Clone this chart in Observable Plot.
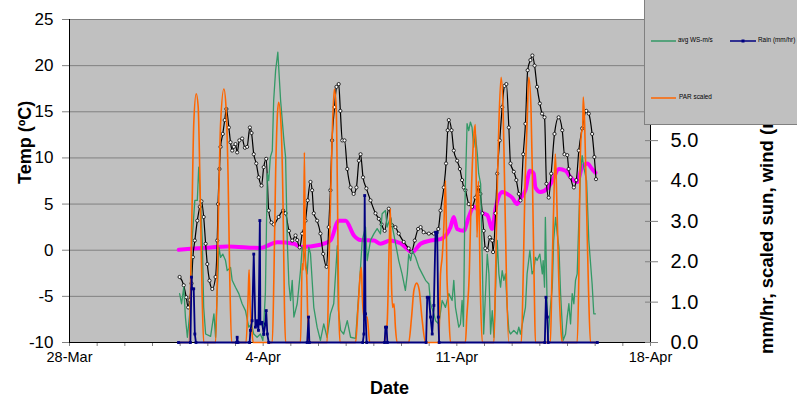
<!DOCTYPE html>
<html><head><meta charset="utf-8">
<script src="https://cdn.jsdelivr.net/npm/d3@7"></script>
<script src="https://cdn.jsdelivr.net/npm/@observablehq/plot@0.6"></script>
<style>
body{margin:0;background:#fff;font-family:"Liberation Sans",Arial,sans-serif}
#wrap{position:relative;width:797px;height:404px;overflow:hidden;background:#fff}
#wrap svg{position:absolute;left:0;top:0}
.rot{position:absolute;transform-origin:0 0;transform:rotate(-90deg);white-space:nowrap;line-height:1;font-weight:bold;color:#000}
#legend{position:absolute;left:644px;top:-2px;width:160px;height:127px;background:#c0c0c0;border:1px solid #808080;box-sizing:border-box;z-index:5}
#legend svg{position:absolute;left:0;top:0}
#legend .tx{position:absolute;font-size:6.4px;line-height:1;color:#000;white-space:nowrap}
</style></head>
<body><div id="wrap"></div>
<script>
// x values: days since 28-Mar (fractional); y values
const dateLabels = ["28-Mar", "4-Apr", "11-Apr", "18-Apr"];
const leftTicks = [-10, -5, 0, 5, 10, 15, 20, 25];
const rightTicks = [0, 1, 2, 3, 4, 5, 6, 7, 8];
const rightLabelled = [0, 1, 2, 3, 4, 5]; // 6.0–8.0 sit under the legend box

// air temperature (black, left axis, °C)
const airTemp = [[3.98,-2.9],[4.13,-3.8],[4.22,-5.1],[4.29,-6.2],[4.34,-5.4],[4.41,-3.6],[4.46,-0.75],[4.53,1.05],[4.62,3.2],[4.71,4.7],[4.77,5.3],[4.85,3.6],[4.92,0.7],[4.98,-1.5],[5.06,-3.3],[5.16,-4.2],[5.28,-2.9],[5.34,1.05],[5.37,5.0],[5.42,8.8],[5.46,11.2],[5.54,12.6],[5.61,14.1],[5.67,15.3],[5.76,13.3],[5.82,11.7],[5.88,10.8],[5.94,11.2],[6.0,11.5],[6.06,10.6],[6.14,11.9],[6.24,12.1],[6.34,11.1],[6.42,11.2],[6.52,13.3],[6.58,12.7],[6.66,10.4],[6.75,9.4],[6.84,7.9],[6.94,7.0],[7.02,9.0],[7.11,9.9],[7.2,4.3],[7.3,3.0],[7.38,2.8],[7.56,3.6],[7.72,4.3],[7.81,4.0],[7.93,2.1],[8.05,1.05],[8.17,1.6],[8.23,1.1],[8.32,0.3],[8.41,1.8],[8.53,3.2],[8.61,5.4],[8.71,7.4],[8.77,6.5],[8.83,4.0],[8.95,3.2],[9.07,1.8],[9.17,-0.4],[9.29,-1.8],[9.37,2.5],[9.43,6.5],[9.49,11.9],[9.58,15.5],[9.65,17.7],[9.73,18.0],[9.79,15.1],[9.86,11.9],[9.94,11.9],[10.04,8.8],[10.16,6.8],[10.27,6.1],[10.37,6.8],[10.46,9.7],[10.52,10.4],[10.61,7.9],[10.73,6.7],[10.88,5.4],[11.06,4.0],[11.18,3.4],[11.28,2.8],[11.39,2.1],[11.54,4.5],[11.66,2.7],[11.78,2.5],[11.9,1.8],[12.08,0.9],[12.26,0.2],[12.36,-0.2],[12.48,1.05],[12.6,2.3],[12.69,2.5],[12.8,1.95],[12.99,1.8],[13.17,1.8],[13.33,2.3],[13.41,4.3],[13.53,6.8],[13.61,9.4],[13.67,13.0],[13.71,14.1],[13.81,13.0],[13.89,10.8],[14.01,9.7],[14.11,8.8],[14.19,7.6],[14.25,6.8],[14.31,6.5],[14.43,5.0],[14.55,4.7],[14.67,5.7],[14.79,6.8],[14.85,6.1],[14.92,4.0],[14.97,2.1],[15.03,0.2],[15.1,0.0],[15.19,1.4],[15.28,1.05],[15.31,-0.2],[15.4,4.0],[15.46,8.3],[15.55,11.9],[15.64,15.5],[15.72,17.8],[15.79,18.0],[15.88,13.3],[15.94,9.4],[16.06,8.5],[16.15,7.6],[16.24,6.1],[16.3,5.4],[16.4,10.4],[16.48,13.7],[16.56,19.5],[16.66,20.6],[16.73,21.1],[16.81,20.0],[16.9,17.7],[17.0,15.9],[17.08,14.8],[17.17,14.4],[17.24,7.2],[17.32,5.7],[17.41,8.3],[17.53,12.6],[17.68,14.4],[17.81,13.0],[17.89,10.4],[17.99,10.3],[18.04,8.8],[18.11,7.9],[18.23,6.8],[18.32,7.6],[18.41,10.8],[18.53,13.2],[18.68,15.1],[18.77,14.8],[18.89,12.6],[18.97,10.1],[19.03,7.7]];

// second temperature (magenta, left axis, °C)
const waterTemp = [[3.95,0.05],[4.37,0.15],[5.10,0.3],[5.70,0.4],[6.90,0.25],[7.51,0.85],[8.11,0.7],[8.35,0.35],[9.07,0.6],[9.43,1.05],[9.73,3.2],[9.98,3.2],[10.28,1.6],[10.52,1.1],[11.0,1.05],[11.24,0.7],[11.60,1.05],[11.96,0.75],[12.39,-0.2],[12.69,0.7],[13.05,1.05],[13.41,1.2],[13.77,2.5],[13.89,3.6],[14.01,2.3],[14.25,2.1],[14.43,3.6],[14.61,4.7],[14.86,4.1],[15.10,3.8],[15.28,2.3],[15.40,4.5],[15.64,6.3],[15.82,6.1],[16.0,5.7],[16.18,5.0],[16.30,5.6],[16.48,6.5],[16.64,8.6],[16.78,8.3],[16.84,6.8],[17.02,6.3],[17.27,6.7],[17.45,7.5],[17.69,8.8],[17.93,8.6],[18.11,7.9],[18.35,7.4],[18.53,9.0],[18.71,9.4],[18.89,8.8],[19.01,8.4]];

// avg wind speed m/s (green, right axis)
const windSpeed = [[3.98,1.21],[4.05,0.96],[4.13,1.37],[4.19,0.63],[4.26,0.13],[4.37,0.87],[4.43,2.53],[4.53,3.52],[4.62,3.52],[4.67,4.34],[4.73,3.6],[4.80,2.53],[4.85,0.87],[4.92,0.21],[5.10,0.15],[5.22,0.71],[5.28,0.13],[5.40,2.36],[5.46,2.11],[5.54,2.19],[5.64,2.03],[5.70,1.78],[5.82,1.86],[5.88,1.54],[6.00,1.37],[6.12,1.21],[6.24,0.96],[6.36,0.79],[6.48,0.38],[6.58,0.46],[6.66,0.21],[6.78,0.13],[6.90,0.21],[6.99,0.05],[7.08,1.21],[7.15,4.18],[7.20,4.01],[7.26,4.59],[7.33,4.75],[7.38,6.0],[7.45,6.74],[7.53,7.19],[7.63,6.0],[7.75,5.0],[7.81,4.59],[7.87,2.53],[7.93,1.45],[7.99,1.04],[8.05,1.54],[8.11,0.63],[8.23,0.96],[8.35,1.78],[8.41,2.36],[8.49,2.2],[8.59,1.7],[8.65,2.36],[8.71,2.2],[8.77,1.54],[8.83,0.87],[8.95,0.38],[9.07,0.05],[9.19,0.46],[9.31,0.13],[9.43,0.71],[9.55,0.96],[9.68,2.4],[9.72,0.8],[9.80,0.3],[9.91,0.21],[10.04,0.54],[10.16,0.13],[10.34,0.1],[10.49,1.54],[10.58,2.53],[10.70,2.86],[10.76,2.03],[10.88,2.53],[11.00,2.69],[11.12,2.82],[11.24,2.69],[11.30,3.19],[11.42,3.27],[11.48,2.86],[11.60,3.1],[11.72,2.69],[11.81,2.36],[11.90,2.03],[12.02,1.7],[12.14,1.29],[12.21,1.7],[12.26,2.19],[12.33,2.03],[12.39,2.28],[12.51,2.11],[12.63,1.86],[12.75,1.7],[12.87,1.54],[12.99,1.45],[13.05,0.96],[13.17,0.71],[13.23,0.54],[13.35,0.46],[13.47,1.04],[13.59,0.87],[13.71,1.21],[13.83,1.04],[13.89,1.54],[13.95,0.87],[14.07,0.38],[14.13,0.46],[14.19,1.04],[14.24,0.4],[14.29,3.35],[14.37,5.42],[14.43,5.25],[14.49,5.46],[14.55,5.33],[14.61,4.84],[14.67,5.17],[14.74,4.67],[14.79,4.18],[14.86,3.93],[14.92,2.0],[14.97,0.21],[15.10,2.19],[15.16,1.7],[15.22,0.21],[15.28,0.79],[15.34,0.13],[15.46,2.53],[15.52,1.7],[15.58,1.37],[15.64,1.78],[15.70,1.54],[15.76,1.7],[15.82,0.87],[15.88,0.3],[15.94,0.21],[16.06,0.3],[16.18,0.21],[16.24,0.38],[16.30,0.21],[16.48,0.87],[16.54,1.7],[16.64,2.28],[16.72,1.7],[16.78,1.78],[16.84,2.11],[16.90,2.03],[17.00,2.19],[17.09,1.7],[17.12,2.03],[17.17,1.37],[17.20,3.1],[17.29,0.05],[17.38,0.87],[17.45,1.37],[17.50,2.53],[17.57,3.1],[17.63,2.69],[17.69,2.36],[17.75,1.21],[17.84,0.05],[17.93,0.21],[17.99,0.63],[18.05,0.96],[18.11,0.46],[18.17,1.21],[18.23,0.96],[18.29,1.54],[18.35,1.7],[18.41,3.02],[18.47,4.18],[18.53,4.63],[18.59,4.34],[18.69,4.01],[18.77,2.53],[18.89,1.45],[18.95,0.71],[19.01,0.71]];

// PAR scaled (orange, right axis)
const parScaled = [[3.94,0],[4.31,0],[4.43,3.35],[4.49,5.4],[4.58,6.16],[4.65,5.85],[4.71,4.2],[4.79,1.3],[4.85,0],[5.28,0],[5.40,3.76],[5.46,5.4],[5.58,6.28],[5.66,5.8],[5.73,4.18],[5.79,1.7],[5.86,0],[6.38,0],[6.46,1.2],[6.49,1.8],[6.53,0.9],[6.58,0.4],[6.64,0],[7.33,0],[7.39,1.7],[7.45,4.18],[7.51,5.58],[7.56,5.95],[7.65,5.33],[7.72,3.35],[7.77,0.87],[7.81,0],[8.35,0],[8.41,1.95],[8.45,1.8],[8.49,4.71],[8.53,1.9],[8.57,1.7],[8.64,0],[9.31,0],[9.37,1.7],[9.43,3.35],[9.49,5.0],[9.57,6.28],[9.64,5.83],[9.69,3.35],[9.73,0.87],[9.78,0],[10.34,0],[10.43,0.87],[10.51,1.7],[10.55,1.86],[10.58,1.21],[10.64,0.63],[10.76,0.63],[10.85,0],[11.36,0],[11.48,0.46],[11.56,2.53],[11.60,3.31],[11.63,1.7],[11.68,0.87],[11.73,0.96],[11.78,0.38],[11.84,0],[12.26,0],[12.36,0.6],[12.45,1.3],[12.55,1.47],[12.64,1.3],[12.74,0.6],[12.87,0],[13.35,0],[13.41,1.7],[13.47,2.11],[13.53,2.86],[13.59,4.01],[13.62,2.86],[13.64,1.7],[13.70,0.87],[13.77,0],[14.31,0],[14.36,0.63],[14.45,1.7],[14.51,3.35],[14.61,5.1],[14.67,5.4],[14.73,2.6],[14.78,4.0],[14.85,1.3],[14.92,0],[15.34,0],[15.40,1.7],[15.46,3.76],[15.52,5.42],[15.60,6.57],[15.67,5.83],[15.72,4.18],[15.79,1.7],[15.88,0],[16.33,0],[16.40,1.7],[16.46,3.76],[16.54,5.42],[16.60,6.57],[16.68,5.83],[16.74,3.76],[16.80,1.29],[16.84,0],[17.38,0],[17.44,1.7],[17.50,3.35],[17.56,4.67],[17.62,3.35],[17.68,1.7],[17.75,0.46],[17.81,0],[18.35,0],[18.41,1.7],[18.45,4.18],[18.50,5.17],[18.55,5.33],[18.57,6.08],[18.62,5.42],[18.69,3.35],[18.76,1.29],[18.83,0],[19.08,0]];

// rain mm/hr (navy, right axis)
const rainRate = [[3.94,0],[4.37,0],[4.41,1.62],[4.43,1.33],[4.49,1.33],[4.53,0.21],[4.57,0],[6.04,0],[6.06,0.13],[6.09,0],[6.51,0],[6.54,0.3],[6.60,0.54],[6.66,2.19],[6.72,0.38],[6.78,0.54],[6.83,0.3],[6.88,3.02],[6.90,0.46],[6.96,0.5],[7.02,0.2],[7.08,0.46],[7.11,0.79],[7.15,0.21],[7.20,0],[8.59,0],[8.64,0.63],[8.67,0],[10.60,0],[10.64,0.21],[10.67,3.64],[10.70,0.71],[10.74,0],[11.39,0],[11.42,0.38],[11.46,0.38],[11.49,0],[12.89,0],[12.93,1.12],[12.99,1.12],[13.05,0.63],[13.11,0.21],[13.17,0.92],[13.23,2.73],[13.29,2.73],[13.33,0.63],[13.36,0],[17.18,0],[17.22,1.12],[17.27,0.63],[17.30,0],[19.08,0]];

const DAY0 = Date.UTC(2008, 2, 28);
const toDate = d => new Date(DAY0 + d * 86400000);
const rows = arr => arr.map(([d, v]) => ({t: toDate(d), v}));
const xDomain = [toDate(0), toDate(21)];
const dayTicks = d3.range(0, 22).map(toDate);
const labelAt = new Map([[0, dateLabels[0]], [7, dateLabels[1]], [14, dateLabels[2]], [21, dateLabels[3]]]);
const fmtX = d => labelAt.get(Math.round((d - DAY0) / 86400000)) || "";

const W = 797, H = 404, mL = 69, mR = 147, mT = 19, mB = 62;
const font = "'Liberation Sans', Arial, sans-serif";

const plotA = Plot.plot({
  width: W, height: H, marginLeft: mL, marginRight: mR, marginTop: mT, marginBottom: mB,
  style: {background: "transparent", fontFamily: font, overflow: "visible"},
  x: {type: "utc", domain: xDomain},
  y: {domain: [-10, 25]},
  marks: [
    Plot.frame({fill: "#c0c0c0", stroke: "none"}),
    Plot.gridY(leftTicks, {stroke: "#808080", strokeOpacity: 1, strokeWidth: 1}),
    Plot.axisY(leftTicks, {anchor: "left", tickSize: 7, tickPadding: 9, fontSize: 17, stroke: "#808080", fill: "black", tickFormat: d => String(d), label: null}),
    Plot.axisX(dayTicks, {anchor: "bottom", tickSize: 4, tickPadding: 5, fontSize: 14.5, stroke: "#808080", fill: "black", tickFormat: fmtX, label: null}),
    Plot.lineY(rows(waterTemp), {x: "t", y: "v", stroke: "#ff00ff", strokeWidth: 4, curve: "monotone-x"}),
    Plot.lineY(rows(airTemp), {x: "t", y: "v", stroke: "black", strokeWidth: 1.2, curve: "monotone-x"}),
    Plot.dot(rows(airTemp), {x: "t", y: "v", r: 1.6, fill: "white", stroke: "black", strokeWidth: 0.8}),
    Plot.ruleX([xDomain[0]], {stroke: "black"}),
    Plot.ruleY([-10], {stroke: "black"})
  ]
});

const plotB = Plot.plot({
  width: W, height: H, marginLeft: mL, marginRight: mR, marginTop: mT, marginBottom: mB,
  style: {background: "transparent", fontFamily: font, overflow: "visible"},
  x: {type: "utc", domain: xDomain, axis: null},
  y: {domain: [0, 8], axis: null},
  marks: [
    Plot.lineY(rows(windSpeed), {x: "t", y: "v", stroke: "#339966", strokeWidth: 1.3}),
    Plot.lineY(rows(parScaled), {x: "t", y: "v", stroke: "#ff6600", strokeWidth: 1.6, curve: "monotone-x"}),
    Plot.lineY(rows(rainRate), {x: "t", y: "v", stroke: "#000080", strokeWidth: 1.8}),
    Plot.dot(rows(rainRate), {x: "t", y: "v", symbol: "square", r: 1.6, fill: "#000080"}),
    Plot.ruleX([xDomain[1]], {stroke: "black"}),
    Plot.axisY(rightLabelled, {anchor: "right", tickSize: 7, tickPadding: 13, fontSize: 20, stroke: "#808080", fill: "black", tickFormat: d => d.toFixed(1), label: null}),
    Plot.axisY(rightTicks, {anchor: "right", tickSize: -6, stroke: "#808080", tickFormat: () => "", label: null})
  ]
});

const wrap = document.getElementById("wrap");
wrap.appendChild(plotA);
wrap.appendChild(plotB);

function addText(txt, css, cls) {
  const el = document.createElement("div");
  if (cls) el.className = cls;
  el.textContent = txt;
  el.style.cssText += css;
  wrap.appendChild(el);
  return el;
}
addText("Temp (ºC)", "left:16px;top:184px;font-size:18px;", "rot");
addText("mm/hr, scaled sun, wind (m/s)", "left:758px;top:354px;font-size:18.5px;", "rot");
addText("Date", "position:absolute;left:370px;top:379px;font-size:18px;font-weight:bold;line-height:1;", null);

// legend (box drawn over the top of the right axis, as in the original)
const lg = document.createElement("div");
lg.id = "legend";
lg.innerHTML =
  '<svg width="160" height="127">' +
  '<line x1="6" x2="31" y1="42" y2="42" stroke="#339966" stroke-width="1.5"/>' +
  '<line x1="85" x2="111" y1="42" y2="42" stroke="#000080" stroke-width="1.5"/>' +
  '<rect x="96.5" y="40.5" width="3" height="3" fill="#000080"/>' +
  '<line x1="6" x2="31" y1="99" y2="99" stroke="#ff6600" stroke-width="1.5"/>' +
  '</svg>' +
  '<div class="tx" style="left:33px;top:38px">avg WS-m/s</div>' +
  '<div class="tx" style="left:113px;top:38px">Rain (mm/hr)</div>' +
  '<div class="tx" style="left:34px;top:95px">PAR scaled</div>';
wrap.appendChild(lg);
</script>
</body></html>
